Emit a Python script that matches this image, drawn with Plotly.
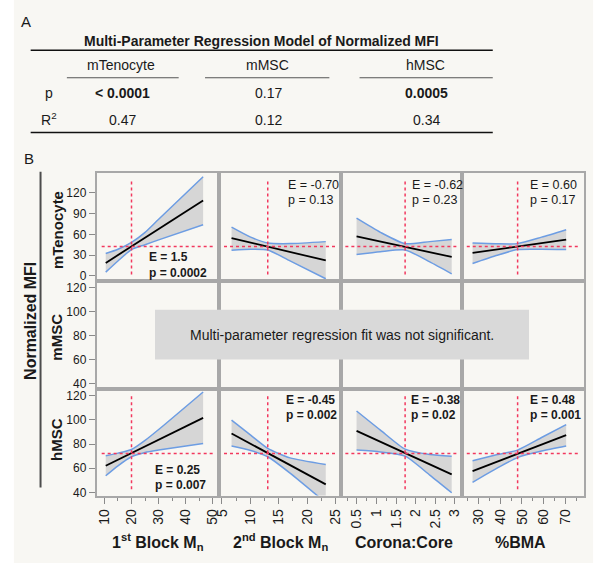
import plotly.graph_objects as go

W, H = 604, 577

# ---------------- data ----------------
row_names = ["mTenocyte", "mMSC", "hMSC"]
col_titles = ["1<sup>st</sup> Block M<sub>n</sub>", "2<sup>nd</sup> Block M<sub>n</sub>",
              "Corona:Core", "%BMA"]

# sample x positions of each factor
x_first = [10.5, 15, 20, 25, 30, 46.4]
x_second = [6.69, 10.06, 13.07, 17, 23.3]
x_cc = [0.49, 1.1, 1.73, 2.36, 2.92]
x_bma = [27.3, 37.8, 47.9, 59, 70.3]

# mTenocyte profiles
mten_first_fit = [18.7, 108.9]
mten_first_upper = [32.2, 38.5, 48.5, 63, 82, 143.5]
mten_first_lower = [5.3, 21.5, 38, 45, 52, 74]
mten_second_fit = [54.7, 22.2]
mten_second_upper = [70.5, 56, 47.5, 46.6, 49.5]
mten_second_lower = [37, 38.5, 37.5, 21.6, -4.3]
mten_cc_fit = [57.1, 27.3]
mten_cc_upper = [83.5, 63, 46.5, 49.5, 52.4]
mten_cc_lower = [30.8, 35, 37.5, 20.2, 2.9]
mten_bma_fit = [33.1, 52.4]
mten_bma_upper = [47.5, 46.5, 46.6, 56, 66.8]
mten_bma_lower = [17.8, 29, 38, 38.5, 38]

# hMSC profiles
hmsc_first_fit = [62.1, 101.6]
hmsc_first_upper = [70.3, 72.5, 75.5, 83, 92, 123]
hmsc_first_lower = [53.8, 62, 69.5, 73, 75, 80.5]
hmsc_second_fit = [88.7, 46.7]
hmsc_second_upper = [99.7, 87.3, 76.4, 68.6, 63.2]
hmsc_second_lower = [78.3, 74.7, 69.5, 56, 31.6]
hmsc_cc_fit = [90.9, 55]
hmsc_cc_upper = [107.3, 91.5, 75.8, 71.4, 70]
hmsc_cc_lower = [75, 73.5, 70, 54.4, 39.8]
hmsc_bma_fit = [57.7, 87.3]
hmsc_bma_upper = [66.2, 70.9, 75, 85.4, 96.1]
hmsc_bma_lower = [48.4, 59.3, 68.8, 74.2, 78.3]

# crosshair (current factor setting, predicted response)
ref_x = [20, 13.07, 1.73, 48]
mten_ref_y = 42.3
hmsc_ref_y = 72.2

mten_E = ["1.5", "-0.70", "-0.62", "0.60"]
mten_p = ["0.0002", "0.13", "0.23", "0.17"]
mten_bold = [True, False, False, False]
hmsc_E = ["0.25", "-0.45", "-0.38", "0.48"]
hmsc_p = ["0.007", "0.002", "0.02", "0.001"]
hmsc_bold = [True, True, True, True]

# table
table_cols = ["mTenocyte", "mMSC", "hMSC"]
table_p = ["< 0.0001", "0.17", "0.0005"]
table_p_bold = [True, False, True]
table_r2 = ["0.47", "0.12", "0.34"]

# axis setup
x_ranges = [[7.2, 52.3], [4.5, 25.9], [0.08, 3.18], [22.4, 78.6]]
x_tick0 = [10, 5, 0.5, 30]
x_dtick = [10, 5, 0.5, 10]
x_minor = [5, 2.5, 0.25, 5]
y_ranges = [[-7.6, 149.2], [35.6, 125.2], [37.5, 125.2]]
y_tick0 = [0, 40, 40]
y_dtick = [30, 20, 20]

# ---------------- styling ----------------
FONT = "Liberation Sans, Arial, sans-serif"
BORDER = "#a8a8a8"
BLUE = "#6d9de3"
GREY = "#d6d6d6"
RED = "#f2385e"
TXT = "#1a1a1a"

col_edges = [92, 216, 339, 462, 586]
row_edges = [174, 283, 392, 499]


def fx(x):
    return x / W


def fy(y):
    return 1 - y / H


profiles = {
    0: [(x_first, mten_first_fit, mten_first_upper, mten_first_lower),
        (x_second, mten_second_fit, mten_second_upper, mten_second_lower),
        (x_cc, mten_cc_fit, mten_cc_upper, mten_cc_lower),
        (x_bma, mten_bma_fit, mten_bma_upper, mten_bma_lower)],
    2: [(x_first, hmsc_first_fit, hmsc_first_upper, hmsc_first_lower),
        (x_second, hmsc_second_fit, hmsc_second_upper, hmsc_second_lower),
        (x_cc, hmsc_cc_fit, hmsc_cc_upper, hmsc_cc_lower),
        (x_bma, hmsc_bma_fit, hmsc_bma_upper, hmsc_bma_lower)],
}
ref_y = {0: mten_ref_y, 2: hmsc_ref_y}

fig = go.Figure()
layout = dict(width=W, height=H, autosize=False,
              margin=dict(l=0, r=0, t=0, b=0),
              paper_bgcolor="white", plot_bgcolor="white",
              showlegend=False, font=dict(family=FONT, color=TXT))
shapes = []
annotations = []

# off-white panel background
shapes.append(dict(type="rect", xref="paper", yref="paper", layer="below",
                   x0=fx(8), x1=fx(595), y0=fy(567), y1=fy(0),
                   fillcolor="#f8f7f3", line=dict(width=0)))

for r in range(3):
    for c in range(4):
        k = r * 4 + c + 1
        xn = "xaxis" if k == 1 else f"xaxis{k}"
        yn = "yaxis" if k == 1 else f"yaxis{k}"
        xr = "x" if k == 1 else f"x{k}"
        yr = "y" if k == 1 else f"y{k}"
        xa = dict(domain=[fx(col_edges[c]), fx(col_edges[c + 1])], range=x_ranges[c],
                  anchor=yr, showline=True, mirror=True, linecolor=BORDER, linewidth=2,
                  showgrid=False, zeroline=False, fixedrange=True)
        ya = dict(domain=[fy(row_edges[r + 1]), fy(row_edges[r])], range=y_ranges[r],
                  anchor=xr, showline=True, mirror=True, linecolor=BORDER, linewidth=2,
                  showgrid=False, zeroline=False, fixedrange=True)
        if r == 2:
            xa.update(tickmode="linear", tick0=x_tick0[c], dtick=x_dtick[c],
                      ticks="outside", ticklen=6, tickwidth=1, tickcolor="#8a8a8a",
                      tickangle=-90, tickfont=dict(size=14, color=TXT, family=FONT),
                      minor=dict(dtick=x_minor[c], tick0=x_tick0[c], ticks="outside",
                                 ticklen=3, tickcolor="#8a8a8a", tickwidth=1))
        else:
            xa.update(showticklabels=False, ticks="")
        if c == 0:
            ya.update(tickmode="linear", tick0=y_tick0[r], dtick=y_dtick[r],
                      ticks="outside", ticklen=6, tickwidth=1, tickcolor="#8a8a8a",
                      tickfont=dict(size=12, color=TXT, family=FONT))
        else:
            ya.update(showticklabels=False, ticks="")
        layout[xn] = xa
        layout[yn] = ya

        if r in profiles:
            xs, fit, up, lo = profiles[r][c]
            fig.add_trace(go.Scatter(x=xs, y=lo, mode="lines", xaxis=xr, yaxis=yr,
                                     line=dict(color=BLUE, width=1.5, shape="spline", smoothing=0.6),
                                     hoverinfo="skip"))
            fig.add_trace(go.Scatter(x=xs, y=up, mode="lines", xaxis=xr, yaxis=yr,
                                     fill="tonexty", fillcolor=GREY,
                                     line=dict(color=BLUE, width=1.5, shape="spline", smoothing=0.6),
                                     hoverinfo="skip"))
            fig.add_trace(go.Scatter(x=[xs[0], xs[-1]], y=fit, mode="lines", xaxis=xr, yaxis=yr,
                                     line=dict(color="black", width=1.8), hoverinfo="skip"))
            # crosshairs
            shapes.append(dict(type="line", xref=f"{xr} domain", yref=yr,
                               x0=0.04, x1=0.96, y0=ref_y[r], y1=ref_y[r],
                               line=dict(color=RED, width=1.5, dash="dot")))
            shapes.append(dict(type="line", xref=xr, yref=f"{yr} domain",
                               x0=ref_x[c], x1=ref_x[c], y0=0.06, y1=0.94,
                               line=dict(color=RED, width=1.5, dash="dot")))
        else:
            # empty panel (fit not significant) - placeholder so the subplot is drawn
            fig.add_trace(go.Scatter(x=[None], y=[None], mode="lines", xaxis=xr, yaxis=yr,
                                     hoverinfo="skip"))

# ---- E / p annotations ----
mten_pos = [(143, 258.7, 274.7), (284, 186.3, 201.3), (409.3, 186.3, 201.3), (529.3, 186.3, 201.3)]
hmsc_pos = [(148.5, 473.5, 488.5), (281.3, 403, 417.5), (408.7, 403, 417.5), (529.3, 403, 417.5)]
for E, p, bold, pos in [(mten_E, mten_p, mten_bold, mten_pos), (hmsc_E, hmsc_p, hmsc_bold, hmsc_pos)]:
    for c in range(4):
        x0, y1, y2 = pos[c]
        for txt, yy in [(f"E = {E[c]}", y1), (f"p = {p[c]}", y2)]:
            t = f"<b>{txt}</b>" if bold[c] else txt
            annotations.append(dict(text=t, xref="paper", yref="paper", x=fx(x0), y=fy(yy),
                                    xanchor="left", yanchor="middle", showarrow=False,
                                    font=dict(size=12 if bold[c] else 12.5, color=TXT, family=FONT)))

# ---- middle row notice ----
shapes.append(dict(type="rect", xref="paper", yref="paper", x0=fx(151), x1=fx(530),
                   y0=fy(362), y1=fy(312), fillcolor="#d9d9d9", line=dict(width=0)))
annotations.append(dict(text="Multi-parameter regression fit was not significant.",
                        xref="paper", yref="paper", x=fx(340.5), y=fy(337.5),
                        xanchor="center", yanchor="middle", showarrow=False,
                        font=dict(size=14, color=TXT, family=FONT)))

# ---- row labels ----
row_y = [231.7, 340, 443]
for name, yy in zip(row_names, row_y):
    annotations.append(dict(text=f"<b>{name}</b>", xref="paper", yref="paper",
                            x=fx(51.7), y=fy(yy), textangle=-90, showarrow=False,
                            xanchor="center", yanchor="middle",
                            font=dict(size=15, color=TXT, family=FONT)))
annotations.append(dict(text="<b>Normalized MFI</b>", xref="paper", yref="paper",
                        x=fx(25.5), y=fy(323), textangle=-90, showarrow=False,
                        xanchor="center", yanchor="middle",
                        font=dict(size=16, color=TXT, family=FONT)))
shapes.append(dict(type="line", xref="paper", yref="paper", x0=fx(35), x1=fx(35),
                   y0=fy(491), y1=fy(173), line=dict(color="#4d4d4d", width=2)))

# ---- column titles ----
col_cx = [154, 278, 403, 521]
for t, cx in zip(col_titles, col_cx):
    annotations.append(dict(text=f"<b>{t}</b>", xref="paper", yref="paper",
                            x=fx(cx), y=fy(546), showarrow=False,
                            xanchor="center", yanchor="middle",
                            font=dict(size=16, color=TXT, family=FONT)))

# ---- panel labels ----
annotations.append(dict(text="A", xref="paper", yref="paper", x=fx(13.5), y=fy(21.7),
                        xanchor="left", yanchor="middle", showarrow=False,
                        font=dict(size=15, color=TXT, family=FONT)))
annotations.append(dict(text="B", xref="paper", yref="paper", x=fx(16), y=fy(160),
                        xanchor="left", yanchor="middle", showarrow=False,
                        font=dict(size=15, color=TXT, family=FONT)))

# ---- table ----
annotations.append(dict(text="<b>Multi-Parameter Regression Model of Normalized MFI</b>",
                        xref="paper", yref="paper", x=fx(259), y=fy(41.5),
                        xanchor="center", yanchor="middle", showarrow=False,
                        font=dict(size=14, color=TXT, family=FONT)))
for y0 in [50.7, 133.3]:
    shapes.append(dict(type="line", xref="paper", yref="paper", x0=fx(25), x1=fx(493.3),
                       y0=fy(y0), y1=fy(y0), line=dict(color="#111111", width=1.5)))
tab_cx = [116.7, 265, 425]
tab_under = [(61.7, 175), (201.7, 327.7), (358.3, 493.3)]
for i in range(3):
    annotations.append(dict(text=table_cols[i], xref="paper", yref="paper", x=fx(tab_cx[i]),
                            y=fy(65.7), xanchor="center", yanchor="middle", showarrow=False,
                            font=dict(size=14, color=TXT, family=FONT)))
    shapes.append(dict(type="line", xref="paper", yref="paper", x0=fx(tab_under[i][0]),
                       x1=fx(tab_under[i][1]), y0=fy(78.3), y1=fy(78.3),
                       line=dict(color="#555555", width=1.2)))
    pt = f"<b>{table_p[i]}</b>" if table_p_bold[i] else table_p[i]
    annotations.append(dict(text=pt, xref="paper", yref="paper", x=fx(tab_cx[i] + 1.5),
                            y=fy(93.3), xanchor="center", yanchor="middle", showarrow=False,
                            font=dict(size=14, color=TXT, family=FONT)))
    annotations.append(dict(text=table_r2[i], xref="paper", yref="paper", x=fx(tab_cx[i] + 1.5),
                            y=fy(120.7), xanchor="center", yanchor="middle", showarrow=False,
                            font=dict(size=14, color=TXT, family=FONT)))
annotations.append(dict(text="p", xref="paper", yref="paper", x=fx(43.3), y=fy(93.3),
                        xanchor="center", yanchor="middle", showarrow=False,
                        font=dict(size=14, color=TXT, family=FONT)))
annotations.append(dict(text="R<sup>2</sup>", xref="paper", yref="paper", x=fx(43.3), y=fy(120),
                        xanchor="center", yanchor="middle", showarrow=False,
                        font=dict(size=14, color=TXT, family=FONT)))

layout["shapes"] = shapes
layout["annotations"] = annotations
fig.update_layout(**layout)
fig.write_html("out.html", config=dict(displayModeBar=False),
               post_script="document.body.style.margin='0px';")
